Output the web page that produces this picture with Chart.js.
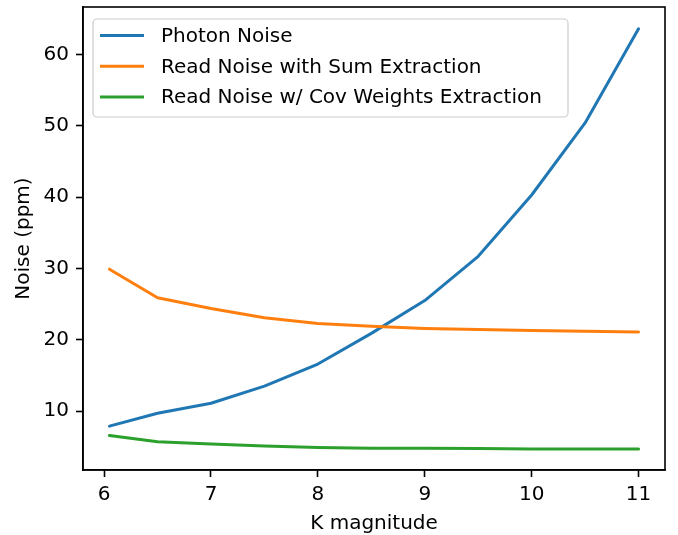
<!DOCTYPE html>
<html>
<head>
<meta charset="utf-8">
<script src="https://cdn.jsdelivr.net/npm/chart.js@4"></script>
<style>
  html, body { margin: 0; padding: 0; background: #fff; }
  #wrap { width: 678px; height: 535px; }
</style>
</head>
<body>
<div id="wrap"><canvas id="noiseChart" width="678" height="535"></canvas></div>
<script>
// K magnitudes and noise levels (ppm)
let kMag = [6.05, 6.5, 7, 7.5, 8, 8.5, 9, 9.5, 10, 10.5, 11];
let photonNoise = [7.9, 9.7, 11.1, 13.5, 16.6, 20.9, 25.5, 31.7, 40.3, 50.4, 63.6];
let readNoiseSum = [29.9, 25.9, 24.4, 23.1, 22.3, 21.9, 21.6, 21.45, 21.3, 21.2, 21.1];
let readNoiseCov = [6.6, 5.7, 5.4, 5.1, 4.9, 4.8, 4.8, 4.75, 4.7, 4.7, 4.7];

let seriesNames = ["Photon Noise", "Read Noise with Sum Extraction", "Read Noise w/ Cov Weights Extraction"];
let seriesColors = ["#1f77b4", "#ff7f0e", "#2ca02c"];

let xTicks = [6, 7, 8, 9, 10, 11];
let yTicks = [10, 20, 30, 40, 50, 60];

const FONT = "DejaVu Sans";
Chart.defaults.font.family = FONT;
Chart.defaults.color = "#000";

function toPoints(ys) {
  return kMag.map((x, i) => ({ x: x, y: ys[i] }));
}

// frame, axis titles and legend box
const extras = {
  id: "extras",
  afterDraw(chart) {
    let ctx = chart.ctx;
    let a = chart.chartArea;
    ctx.save();
    ctx.strokeStyle = "#000";
    ctx.lineWidth = 1.6;
    ctx.strokeRect(a.left, a.top, a.right - a.left, a.bottom - a.top);

    ctx.fillStyle = "#000";
    ctx.font = "20px " + FONT;
    ctx.textAlign = "center";
    ctx.textBaseline = "alphabetic";
    ctx.fillText("K magnitude", (a.left + a.right) / 2, 529);

    ctx.translate(29, (a.top + a.bottom) / 2);
    ctx.rotate(-Math.PI / 2);
    ctx.fillText("Noise (ppm)", 0, 0);
    ctx.restore();

    // legend
    ctx.save();
    let bx = 93, by = 19, bw = 475, bh = 98, r = 4;
    ctx.beginPath();
    ctx.roundRect(bx, by, bw, bh, r);
    ctx.fillStyle = "rgba(255,255,255,0.8)";
    ctx.fill();
    ctx.strokeStyle = "#cccccc";
    ctx.lineWidth = 1.2;
    ctx.stroke();

    ctx.font = "20px " + FONT;
    ctx.textAlign = "left";
    ctx.textBaseline = "middle";
    ctx.lineCap = "butt";
    for (let i = 0; i < seriesNames.length; i++) {
      let y = 35.5 + i * 30.8;
      ctx.strokeStyle = seriesColors[i];
      ctx.lineWidth = 3;
      ctx.beginPath();
      ctx.moveTo(100, y);
      ctx.lineTo(144, y);
      ctx.stroke();
      ctx.fillStyle = "#000";
      ctx.fillText(seriesNames[i], 161, y + 1);
    }
    ctx.restore();
  }
};

new Chart(document.getElementById("noiseChart"), {
  type: "line",
  data: {
    datasets: [
      { label: seriesNames[0], data: toPoints(photonNoise), borderColor: seriesColors[0], order: 3 },
      { label: seriesNames[1], data: toPoints(readNoiseSum), borderColor: seriesColors[1], order: 2 },
      { label: seriesNames[2], data: toPoints(readNoiseCov), borderColor: seriesColors[2], order: 1 }
    ]
  },
  options: {
    responsive: false,
    animation: false,
    layout: { padding: { left: 0, right: 13, top: 7, bottom: 0 } },
    elements: {
      line: { borderWidth: 3, tension: 0, fill: false, borderCapStyle: "round", borderJoinStyle: "round" },
      point: { radius: 0 }
    },
    plugins: { legend: { display: false }, tooltip: { enabled: false } },
    scales: {
      x: {
        type: "linear",
        min: 5.8025,
        max: 11.2475,
        afterBuildTicks: (s) => { s.ticks = xTicks.map(v => ({ value: v })); },
        afterFit: (s) => { s.height = 65; s.paddingLeft = 0; s.paddingRight = 0; },
        grid: { drawOnChartArea: false, drawTicks: true, tickLength: 7, tickWidth: 1.6, tickColor: "#000" },
        border: { display: true, color: "#000", width: 1.6 },
        ticks: { padding: 6, font: { size: 20 }, color: "#000", maxRotation: 0 }
      },
      y: {
        type: "linear",
        min: 1.75,
        max: 66.65,
        afterBuildTicks: (s) => { s.ticks = yTicks.map(v => ({ value: v })); },
        afterFit: (s) => { s.width = 83; s.paddingTop = 0; s.paddingBottom = 0; },
        grid: { drawOnChartArea: false, drawTicks: true, tickLength: 7, tickWidth: 1.6, tickColor: "#000" },
        border: { display: true, color: "#000", width: 1.6 },
        ticks: { padding: 7, font: { size: 20 }, color: "#000" }
      }
    }
  },
  plugins: [extras]
});
</script>
</body>
</html>
